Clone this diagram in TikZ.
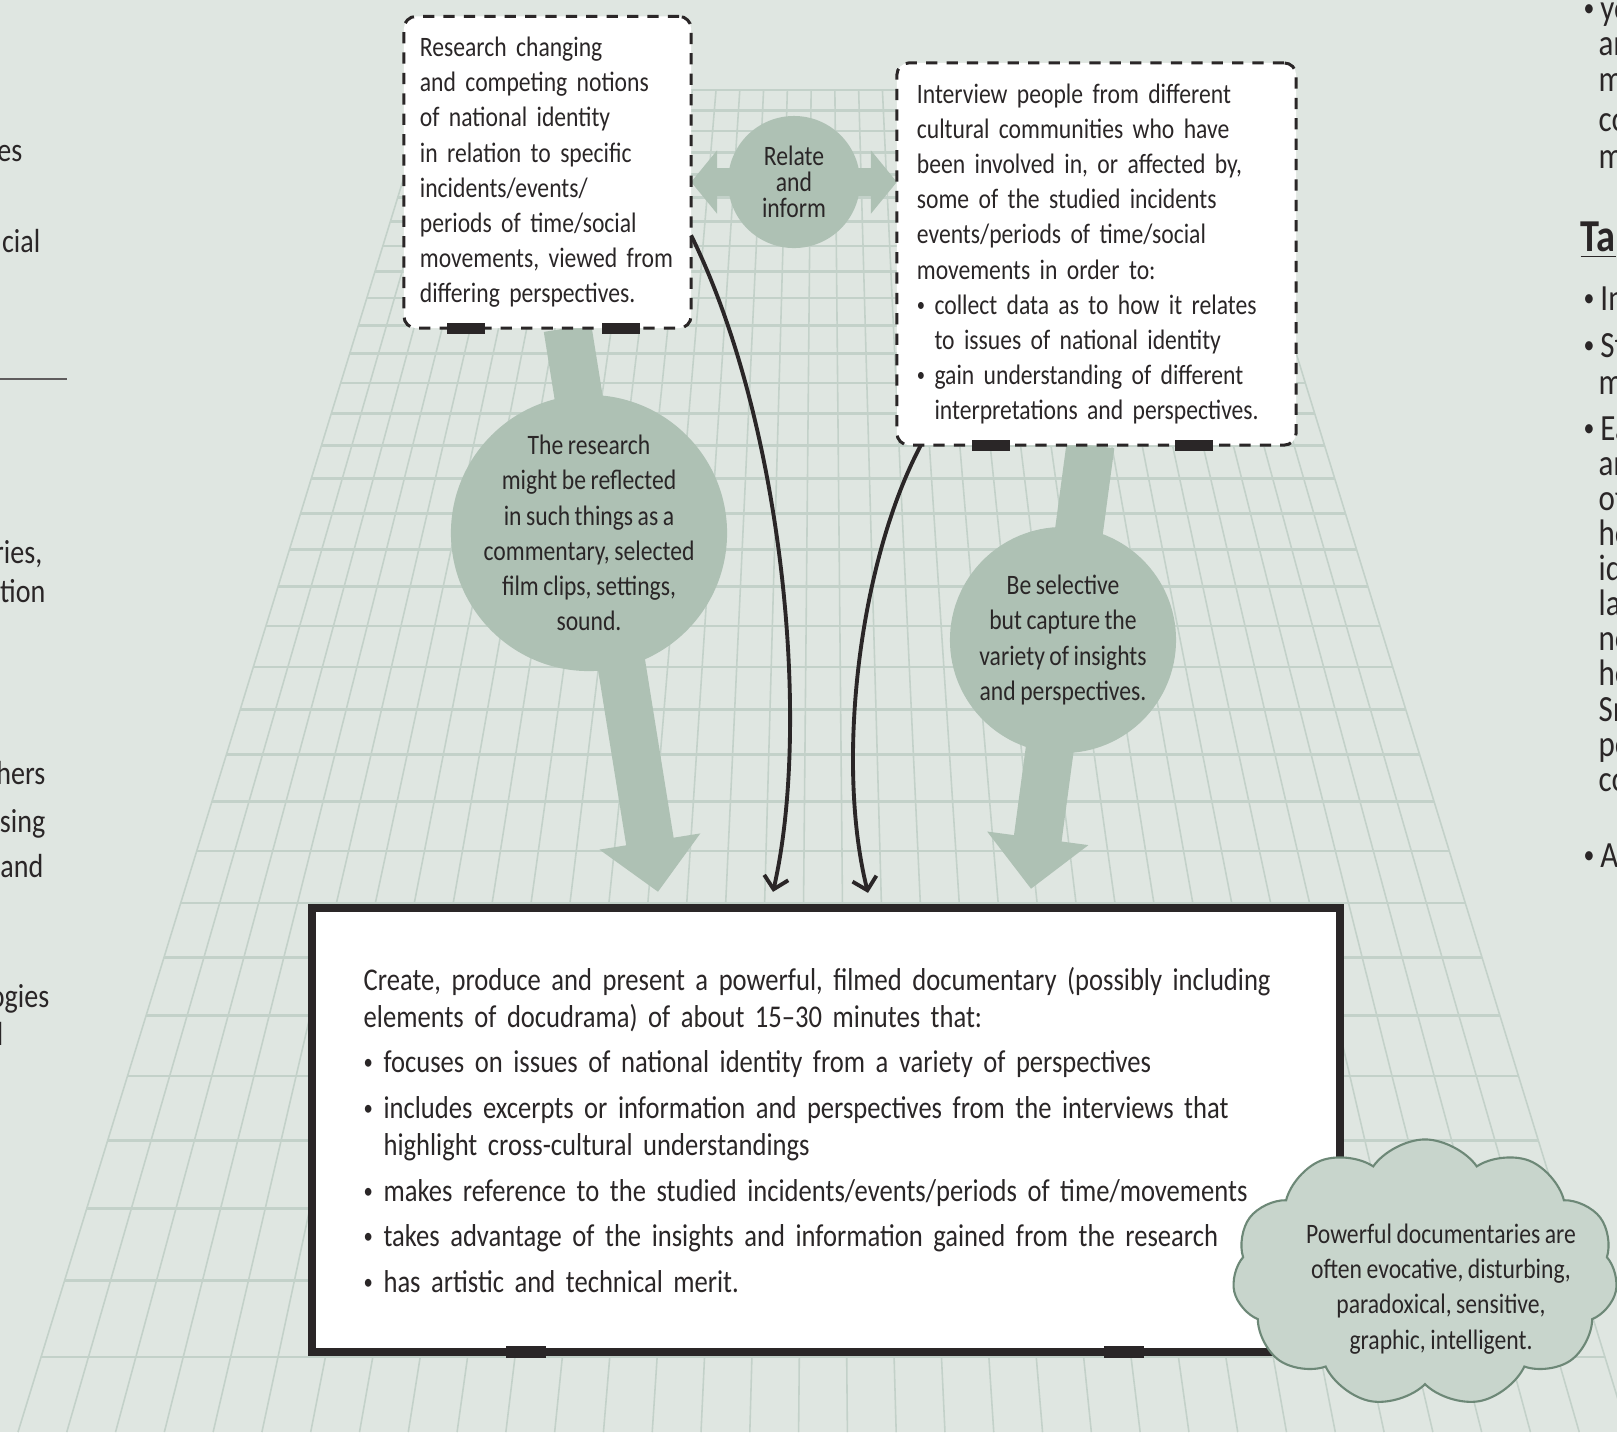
\documentclass[tikz,border=0pt]{standalone}
\usepackage{fontspec}
\setmainfont{Carlito}[FakeStretch=0.84, WordSpace=0.85]
\usepackage{graphicx}
\usepackage{tikz}
\usetikzlibrary{positioning,calc,arrows.meta,shapes.symbols}

\definecolor{pagebg}{HTML}{DFE6E1}
\definecolor{gridline}{HTML}{C3D1C9}
\definecolor{sage}{HTML}{AEC1B4}
\definecolor{cloudfill}{HTML}{C8D5CC}
\definecolor{cloudline}{HTML}{6D8877}
\definecolor{ink}{HTML}{2A2627}

\newcommand{\boxtext}{\fontsize{8}{10}\selectfont}
\newcommand{\docutext}{\fontsize{9}{10.5}\selectfont}
\newcommand{\relatetext}{\fontsize{8}{7.4}\selectfont}
\newcommand{\edgetext}{\fontsize{10.5}{12}\selectfont}
\newcommand{\bul}{\raisebox{0.1em}{\scalebox{0.7}{\textbullet}}\ }

\pgfdeclarelayer{bg}
\pgfsetlayers{bg,main}

\tikzset{
    notebox/.style={draw=ink, fill=white, line width=0.85pt, dash pattern=on 3.2pt off 2.6pt,
        rounded corners=0.12cm, outer sep=0pt, inner xsep=0.16cm, align=left, font=\boxtext},
    hinge/.style={fill=ink, inner sep=0pt, minimum width=0.38cm, minimum height=0.11cm},
    bubble/.style={circle, fill=sage, inner sep=0pt},
    bubbletext/.style={align=center, font=\boxtext, inner sep=0pt},
    flow/.style={sage, line width=0.48cm, -{Triangle[width=0.99cm,length=0.51cm]}},
    relate/.style={sage, line width=0.28cm, {Triangle[width=0.62cm,length=0.26cm]}-{Triangle[width=0.62cm,length=0.26cm]}},
    link/.style={ink, line width=1.1pt, -{Straight Barb[length=3.4pt,width=7pt]}},
    edge/.style={font=\edgetext, inner sep=0pt},
}

\begin{document}
\begin{tikzpicture}[x=0.01cm, y=-0.01cm, color=ink]
    \useasboundingbox (0,0) rectangle (1617,1432);

    % Research box
    \node[notebox, minimum width=2.87cm, minimum height=3.115cm, text width=2.55cm] (research) at (547.5,172.25)
        {Research changing\\ and competing notions\\ of national identity\\ in relation to specific\\
         incidents/events/\\ periods of time/social\\ movements, viewed from\\ differing perspectives.};

    % Interview box
    \node[notebox, inner xsep=0.2cm, minimum width=3.99cm, minimum height=3.82cm, text width=3.59cm] (interview) at (1096.5,254)
        {Interview people from different\\ cultural communities who have\\ been involved in, or affected by,\\
         some of the studied incidents\\ events/periods of time/social\\ movements in order to:\\
         \bul collect data as to how it relates\\ \phantom{\bul}to issues of national identity\\
         \bul gain understanding of different\\ \phantom{\bul}interpretations and perspectives.};

    % hinges
    \node[hinge] (h1) at ($(research.south west)+(62,0)$) {};
    \node[hinge] (h2) at ($(research.south west)+(217,0)$) {};
    \node[hinge] (h3) at ($(interview.south west)+(94,0)$) {};
    \node[hinge] (h4) at ($(interview.south west)+(297,0)$) {};

    % circles
    \node[bubble, minimum size=1.32cm, align=center, font=\relatetext] (relate) at (794,182) {Relate\\and\\inform};
    \node[bubble, minimum size=2.76cm] (reflect) at (589,533) {};
    \node[bubbletext] (reflecttext) at (reflect) {The research\\ might be reflected\\ in such things as a\\
        commentary, selected\\ film clips, settings,\\ sound.};
    \node[bubble, minimum size=2.26cm] (selective) at (1063,640) {};
    \node[bubbletext] (selectivetext) at (selective) {Be selective\\ but capture the\\ variety of insights\\ and perspectives.};

    % Documentary box
    \node[draw=ink, fill=white, line width=2.3pt, outer sep=0pt, minimum width=10.28cm, minimum height=4.44cm,
          text width=9.24cm, inner xsep=0.52cm, align=left, font=\docutext] (docu) at (826,1130)
        {Create, produce and present a powerful, filmed documentary (possibly including\\
         elements of docudrama) of about 15–30 minutes that:\\[2.5pt]
         \bul focuses on issues of national identity from a variety of perspectives\\[2.5pt]
         \bul includes excerpts or information and perspectives from the interviews that\\
         \phantom{\bul}highlight cross-cultural understandings\\[2.5pt]
         \bul makes reference to the studied incidents/events/periods of time/movements\\[2.5pt]
         \bul takes advantage of the insights and information gained from the research\\[2.5pt]
         \bul has artistic and technical merit.};
    \node[hinge, minimum width=0.4cm, minimum height=0.12cm] (h5) at ($(docu.south west)+(214,0)$) {};
    \node[hinge, minimum width=0.4cm, minimum height=0.12cm] (h6) at ($(docu.south west)+(812,0)$) {};

    % curved links
    \draw[link] ($(research.east)+(0,63)$) .. controls (782,420) and (812,720) .. ($(docu.north)+(-53,-16)$);
    \draw[link] ($(interview.south west)+(24,0)$) .. controls (860,560) and (835,760) .. ($(docu.north)+(42,-15)$);

    % cloud
    \node[cloud, cloud puffs=11, cloud puff arc=110, cloud ignores aspect, fill=cloudfill, draw=cloudline,
          line width=0.6pt, minimum width=3.85cm, minimum height=2.67cm] (powerful) at (1425,1273) {};
    \node[bubbletext] (powerfultext) at (1441,1289) {Powerful documentaries are\\ often evocative, disturbing,\\
        paradoxical, sensitive,\\ graphic, intelligent.};

    % neighbouring columns, cut by the page edge
    \foreach \t/\x/\y [count=\n] in {es/23/153, cial/41/244, {ries,}/43/555, tion/46/594, hers/46/776,
                                    sing/46/824, and/44/869, ogies/50/999, l/4/1037}
        \node[edge, anchor=mid east, font=\fontsize{9.5}{11}\selectfont] (left\n) at (\x,\y) {\t};
    \draw[ink!75, line width=0.6pt] (0,379) -- (67,379);
    \foreach \t/\x/\y [count=\n] in {{\bul yo}/1583/12, ar/1598/47, m/1598/83, co/1598/123, m/1598/160,
                                    {\bul In}/1583/302, {\bul St}/1583/349, m/1598/386,
                                    {\bul Ea}/1583/432, ar/1598/467, of/1598/502, ho/1598/537,
                                    id/1598/572, la/1598/607, no/1598/642, he/1598/677, Sm/1598/713,
                                    po/1598/748, co/1598/783, {\bul Av}/1583/859}
        \node[edge, anchor=mid west] (right\n) at (\x,\y) {\t};
    \node[edge, anchor=mid west, font=\fontsize{13}{15}\selectfont\bfseries] (tasks) at (1580,243) {\underline{Ta}};

    \begin{pgfonlayer}{bg}
        \fill[pagebg] (0,0) rectangle (1617,1432);

        % floor grid
        \foreach \i in {0,...,33}{
            \pgfmathsetmacro{\xb}{18+48.788*\i}
            \pgfmathsetmacro{\xt}{823+(\xb-823)*0.4872}
            \draw[gridline, line width=0.45pt] (\xt,90) -- (\xb,1432);
        }
        \foreach \k in {0,...,32}{
            \pgfmathsetmacro{\yy}{100*(1000/(78.43-1.2215*\k))-1185}
            \pgfmathsetmacro{\ff}{(\yy+1185)/2617}
            \draw[gridline, line width=0.75pt] (823-805*\ff,\yy) -- (823+805*\ff,\yy);
        }

        % wide arrows
        \draw[relate] (research.east |- relate.center) -- (interview.west |- relate.center);
        \draw[flow] ($(research.south)+(20,0)$) -- ($(docu.north)+(-168,-16)$);
        \draw[flow] ($(interview.south)+(-6,0)$) -- ($(docu.north)+(205,-19)$);
    \end{pgfonlayer}
\end{tikzpicture}
\end{document}
